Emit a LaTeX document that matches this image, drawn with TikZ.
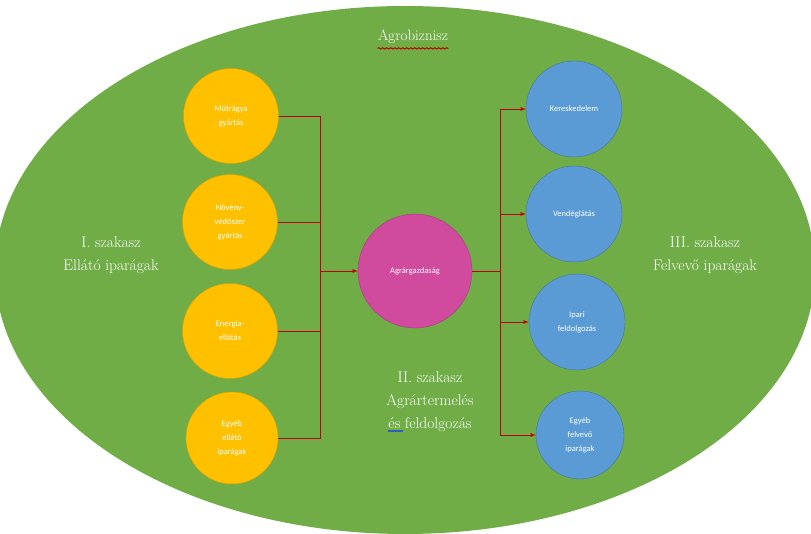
\documentclass[tikz,border=0pt]{standalone}
\usepackage{fontspec}
\usetikzlibrary{decorations.pathmorphing}
\newfontfamily\calibri{Carlito}
\definecolor{fieldgreen}{HTML}{70AD47}
\definecolor{supplyorange}{HTML}{FFC000}
\definecolor{buyerblue}{HTML}{5B9BD5}
\definecolor{farmpink}{HTML}{D04A9E}
\definecolor{linkred}{HTML}{C00000}
\definecolor{markblue}{HTML}{3060C0}
\begin{document}
\begin{tikzpicture}[x=1pt,y=-1pt,
  supplier/.style={circle,fill=supplyorange,draw=supplyorange!85!black,minimum size=95pt,inner sep=0pt,
    text=white,align=center,font=\calibri\fontsize{8.5}{14}\selectfont},
  buyer/.style={circle,fill=buyerblue,draw=buyerblue!75!black,minimum size=96pt,inner sep=0pt,
    text=white,align=center,font=\calibri\fontsize{8.5}{14}\selectfont},
  stage/.style={text=white,align=center,font=\fontsize{15.5}{23}\selectfont},
  link/.style={linkred,line width=0.8pt},
  >=latex]
  \useasboundingbox (0,0) rectangle (811,534);
  \fill[fieldgreen] (405,270) ellipse [x radius=410,y radius=264];

  \node (title) at (413,37) [text=white,font=\fontsize{15}{18}\selectfont]{Agrobiznisz};
  \draw[red!75!black,line width=1pt,decorate,decoration={snake,amplitude=0.6pt,segment length=4pt}]
    ([xshift=3pt,yshift=-1pt]title.south west) -- ([xshift=-3pt,yshift=-1pt]title.south east);

  \node (o1) at (231,116) [supplier]{Műtrágya\\gyártás};
  \node (o2) at (230,222) [supplier]{Növény-\\védőszer\\gyártás};
  \node (o3) at (230,331) [supplier]{Energia-\\ellátás};
  \node (o4) at (232,438) [supplier,minimum size=92pt]{Egyéb\\ellátó\\iparágak};

  \node (agr) at (415,271) [circle,fill=farmpink,draw=farmpink!80!black,minimum size=114pt,inner sep=0pt,
    text=white,font=\calibri\fontsize{8.5}{14}\selectfont]{Agrárgazdaság};

  \node (b1) at (574,109) [buyer]{Kereskedelem};
  \node (b2) at (574,214) [buyer]{Vendéglátás};
  \node (b3) at (577,322) [buyer]{Ipari\\feldolgozás};
  \node (b4) at (580,435) [buyer,minimum size=88pt]{Egyéb\\felvevő\\iparágak};

  \node (s1) at (111,255) [stage]{I. szakasz\\Ellátó iparágak};
  \node (s3) at (705,255) [stage]{III. szakasz\\Felvevő iparágak};
  \node (s2) at (430,402) [stage]{II. szakasz\\Agrártermelés\\{\color{markblue}\rlap{\rule[-3pt]{15pt}{1.4pt}}}és feldolgozás};

  \coordinate (busL) at (320,271);
  \coordinate (busR) at (500,271);

  \draw[link] (o1) -| (busL);
  \draw[link] (o2) -| (busL);
  \draw[link] (o3) -| (busL);
  \draw[link] (o4) -| (busL);
  \draw[link,->] (busL) -- (agr);

  \draw[link] (agr) -- (busR);
  \draw[link,->] (busR) |- (b1);
  \draw[link,->] (busR) |- (b2);
  \draw[link,->] (busR) |- (b3);
  \draw[link,->] (busR) |- (b4);

\end{tikzpicture}
\end{document}
